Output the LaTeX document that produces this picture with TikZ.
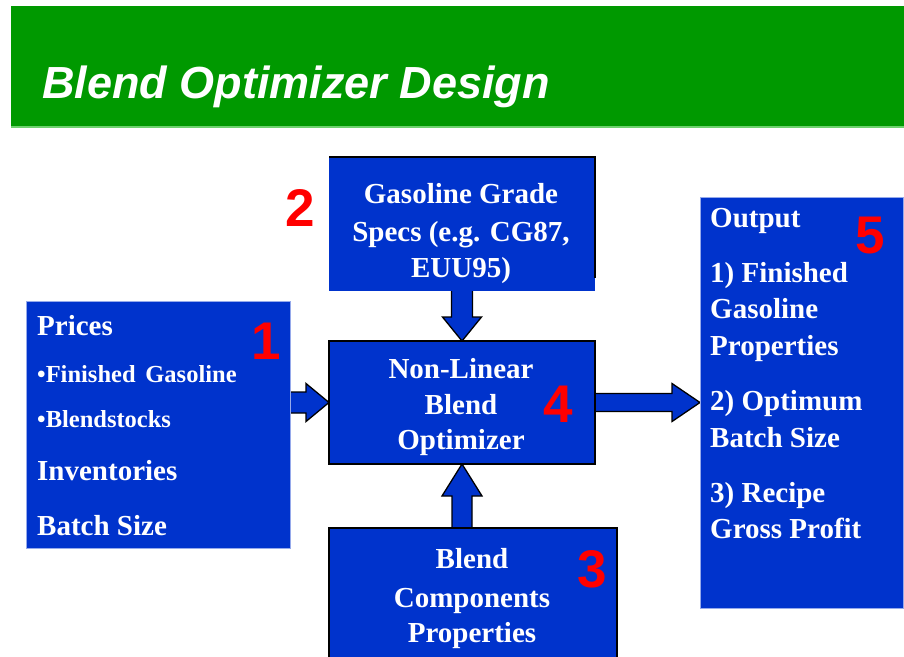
\documentclass[tikz,border=0pt]{standalone}
\usepackage{fontspec}
\setmainfont{Liberation Serif}
\newfontfamily\headsans{Liberation Sans}
\usetikzlibrary{calc,backgrounds}

\definecolor{bannergreen}{RGB}{0,153,0}
\definecolor{bannerline}{RGB}{110,210,110}
\definecolor{boxblue}{RGB}{0,51,204}
\definecolor{boxedge}{RGB}{150,170,235}
\definecolor{tagred}{RGB}{255,0,0}

% Block arrow from #1 (tail) to #2 (tip):
% #3 shaft half width, #4 head half width, #5 head length (all in pt)
\newcommand\blockarrow[5]{%
  \coordinate (hc) at ($(#2)!#5pt!(#1)$);
  \draw[arrowbody]
    ($(#1)!#3pt!90:(#2)$) -- ($(hc)!#3pt!-90:(#1)$) -- ($(hc)!#4pt!-90:(#1)$)
    -- (#2)
    -- ($(hc)!#4pt!90:(#1)$) -- ($(hc)!#3pt!90:(#1)$) -- ($(#1)!#3pt!-90:(#2)$) -- cycle;}

\begin{document}
\begin{tikzpicture}[x=1pt,y=-1pt,
  panel/.style={rectangle, fill=boxblue, anchor=north west, inner sep=0pt, outer sep=0pt},
  softpanel/.style={panel, draw=boxedge, line width=0.8pt},
  hardpanel/.style={panel, draw=black, line width=1.5pt},
  boxtxt/.style={text=white, inner sep=0pt, font=\fontsize{29}{35}\selectfont\bfseries},
  lline/.style={boxtxt, anchor=base west},
  cline/.style={boxtxt, anchor=base},
  smalltxt/.style={font=\fontsize{24.5}{29}\selectfont\bfseries},
  tag/.style={text=tagred, inner sep=0pt, anchor=base, font=\headsans\fontsize{53}{60}\selectfont\bfseries},
  arrowbody/.style={fill=boxblue, draw=black, line width=1.3pt, line join=miter}]

\clip (0,0) rectangle (904,656);

% title banner
\fill[bannergreen] (11,6) rectangle (904,126);
\fill[bannerline] (11,126) rectangle (904,128);
\node[anchor=base west, inner sep=0pt, text=white,
      font=\headsans\fontsize{45}{54}\selectfont\bfseries\itshape] (title) at (42,98) {Blend Optimizer Design};

% panels
\node[softpanel, minimum width=264pt, minimum height=247pt] (inputs) at (26,301) {};
\node[panel, minimum width=266pt, minimum height=134pt] (specs) at (329,157) {};
\draw[black, line width=1.5pt] (specs.north west) -- (specs.north east) -- ($(specs.south east)+(0,-13)$);
\node[hardpanel, minimum width=266pt, minimum height=123pt] (optimizer) at (329,341) {};
\node[hardpanel, minimum width=288pt, minimum height=150pt] (components) at (329,528) {};
\node[softpanel, minimum width=203pt, minimum height=411pt] (output) at (700,197) {};

% connecting block arrows, kept behind the panels
\begin{scope}[on background layer]
  \coordinate (inTail) at ($(inputs.east |- optimizer.west)+(-3,0)$);
  \blockarrow{inTail}{optimizer.west}{10.5}{19}{23}
  \coordinate (outTail) at ($(optimizer.east)+(-3,0)$);
  \blockarrow{outTail}{output.west}{9}{19}{28}
  \coordinate (specTail) at ($(optimizer.north |- specs.south)+(0,-3)$);
  \blockarrow{specTail}{optimizer.north}{10.5}{19.5}{24}
  \coordinate (compTail) at ($(optimizer.south |- components.north)+(0,3)$);
  \blockarrow{compTail}{optimizer.south}{10}{20}{32}
\end{scope}

% inputs
\node[lline] (inA) at (37,335) {Prices};
\node[lline, smalltxt] (inB) at (37,382) {•Finished\hspace{0.4em}Gasoline};
\node[lline, smalltxt] (inC) at (37,427) {•Blendstocks};
\node[lline] (inD) at (37,480) {Inventories};
\node[lline] (inE) at (37,535) {Batch Size};

% grade specs
\node[cline] (spA) at (461,203) {Gasoline Grade};
\node[cline] (spB) at (461,241) {Specs (e.g. CG87,};
\node[cline] (spC) at (461,277) {EUU95)};

% optimizer
\node[cline] (opA) at (461,378) {Non-Linear};
\node[cline] (opB) at (461,414) {Blend};
\node[cline] (opC) at (461,449) {Optimizer};

% blend components
\node[cline] (cpA) at (472,568) {Blend};
\node[cline] (cpB) at (472,607) {Components};
\node[cline] (cpC) at (472,642) {Properties};

% output
\node[lline] (ouA) at (710,227) {Output};
\node[lline] (ouB) at (710,282) {1) Finished};
\node[lline] (ouC) at (710,318) {Gasoline};
\node[lline] (ouD) at (710,355) {Properties};
\node[lline] (ouE) at (710,410) {2) Optimum};
\node[lline] (ouF) at (710,447) {Batch Size};
\node[lline] (ouG) at (710,502) {3) Recipe};
\node[lline] (ouH) at (710,538) {Gross Profit};

% step numbers
\node[tag] (n1) at (266,359) {1};
\node[tag] (n2) at (300,226) {2};
\node[tag] (n3) at (592,587) {3};
\node[tag] (n4) at (558,422) {4};
\node[tag] (n5) at (870,253) {5};
\end{tikzpicture}
\end{document}
